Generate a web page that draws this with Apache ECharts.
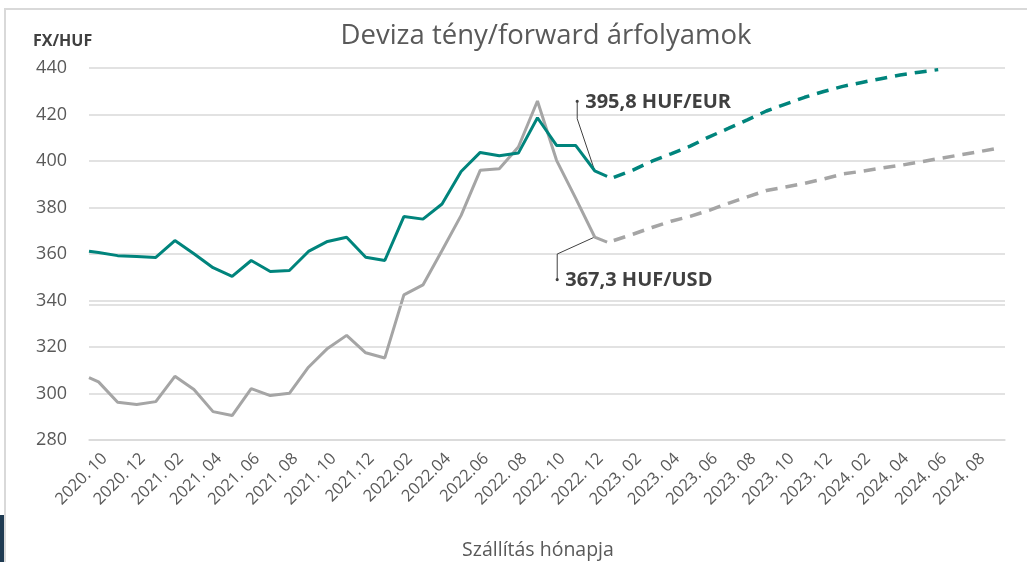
<!DOCTYPE html>
<html>
<head>
<meta charset="utf-8">
<script src="https://cdn.jsdelivr.net/npm/echarts@6/dist/echarts.min.js"></script>
<style>
  html, body { margin: 0; padding: 0; background: #fff; }
  #frame {
    position: absolute; left: 4px; top: 8px; width: 1100px; height: 600px;
    border-top: 2px solid #d9d9d9; border-left: 2px solid #d9d9d9;
  }
  #corner { position: absolute; left: 0; top: 515px; width: 4px; height: 47px; background: #1f3b52; }
  #chart { position: absolute; left: 0; top: 0; width: 1027px; height: 562px; }
</style>
</head>
<body>
<div id="frame"></div>
<div id="corner"></div>
<div id="chart"></div>
<script>
// havi kategóriák (szállítás hónapja)
const months = [
  '2020. 10', '2020. 11', '2020. 12', '2021. 01', '2021. 02', '2021. 03',
  '2021. 04', '2021. 05', '2021. 06', '2021. 07', '2021. 08', '2021. 09',
  '2021. 10', '2021. 11', '2021.12', '2022.01', '2022.02', '2022.03',
  '2022.04', '2022.05', '2022.06', '2022.07', '2022. 08', '2022. 09',
  '2022. 10', '2022. 11', '2022. 12', '2023. 01', '2023. 02', '2023. 03',
  '2023. 04', '2023. 05', '2023. 06', '2023. 07', '2023. 08', '2023. 09',
  '2023. 10', '2023. 11', '2023. 12', '2024. 01', '2024. 02', '2024. 03',
  '2024. 04', '2024. 05', '2024. 06', '2024. 07', '2024. 08', '2024. 09'
]
const yTicks = [280, 300, 320, 340, 360, 380, 400, 420, 440]

// tény árfolyamok, 2020.10 - 2022.12
const eurActual = [360.6, 359.3, 358.9, 358.5, 365.8, 360.1, 354.1, 350.4, 357.2, 352.5,
  352.9, 361.1, 365.4, 367.2, 358.6, 357.2, 376.1, 375.0, 381.5, 395.5,
  403.7, 402.3, 403.4, 418.6, 406.7, 406.7, 395.8]
const usdActual = [305.0, 296.2, 295.3, 296.5, 307.4, 301.7, 292.2, 290.5, 302.1, 299.1,
  300.1, 311.3, 319.4, 325.0, 317.5, 315.3, 342.4, 346.7, 361.5, 376.6,
  396.0, 396.7, 406.0, 425.8, 400.3, 384.0, 367.3]
// időszak eleje és az utolsó spot (hónap-pozíció, érték)
const eurEnds = [[0, 361.2], [27.15, 393.4]]
const usdEnds = [[0, 306.8], [27.15, 365.1]]

// forward árfolyamok 2023.01-től
const eurForward = [393.0, 396.1, 399.9, 403.1, 406.4, 410.4, 414.0, 417.7, 421.5, 424.5,
  427.4, 429.9, 432.1, 433.8, 435.4, 437.0, 438.2, 439.3]
const usdForward = [365.8, 368.5, 371.4, 374.1, 376.2, 378.8, 381.8, 384.6, 387.3, 388.8,
  390.4, 392.3, 394.4, 395.6, 396.9, 398.1, 399.5, 401.0, 402.4, 403.8, 405.3]
const forwardStart = months.indexOf('2023. 01')

const EUR_COLOR = '#00847c'
const USD_COLOR = '#a5a5a5'
const FONT = 'Open Sans'

const actualData = (arr, ends) => [ends[0], ...arr.map((v, i) => [i + 0.5, v]), ends[1]]
const forwardData = (arr) => arr.map((v, i) => [forwardStart + i + 0.5, v])

const myChart = echarts.init(document.getElementById('chart'))

const options = {
  animation: false,
  textStyle: { fontFamily: FONT },
  title: {
    text: 'Deviza tény/forward árfolyamok',
    left: 541,
    textAlign: 'center',
    top: 17,
    textStyle: { fontSize: 27.5, fontWeight: 'normal', color: '#595959', fontFamily: FONT }
  },
  grid: { left: 89, right: 22, top: 68, bottom: 122, containLabel: false, outerBoundsMode: 'none' },
  xAxis: [
    {
      type: 'category',
      data: months,
      boundaryGap: true,
      name: 'Szállítás hónapja',
      nameLocation: 'middle',
      nameGap: 100,
      nameTextStyle: { fontSize: 19.5, color: '#595959', fontFamily: FONT, padding: [0, 18, 0, 0] },
      axisLine: { lineStyle: { color: '#d9d9d9', width: 1.5 } },
      axisTick: { interval: 1, length: 7, lineStyle: { color: '#d9d9d9', width: 1.5 } },
      axisLabel: {
        interval: 1, rotate: 45, fontSize: 16.5, color: '#595959', margin: 10,
        verticalAlign: 'top', fontFamily: FONT
      }
    },
    { type: 'value', min: 0, max: months.length, show: false }
  ],
  yAxis: {
    type: 'value',
    min: yTicks[0],
    max: yTicks[yTicks.length - 1],
    interval: 20,
    axisLine: { show: false },
    axisTick: { show: false },
    axisLabel: { fontSize: 18, color: '#595959', margin: 22, fontFamily: FONT },
    splitLine: { lineStyle: { color: '#d9d9d9', width: 1.5 } }
  },
  series: [
    {
      name: 'EUR tény', type: 'line', xAxisIndex: 1, showSymbol: false,
      data: actualData(eurActual, eurEnds),
      lineStyle: { color: EUR_COLOR, width: 3 }, z: 3,
      markLine: {
        silent: true, symbol: 'none', label: { show: false },
        lineStyle: { color: '#d9d9d9', width: 1.5, type: 'solid' },
        data: [{ yAxis: 338.3 }]
      }
    },
    {
      name: 'USD tény', type: 'line', xAxisIndex: 1, showSymbol: false,
      data: actualData(usdActual, usdEnds),
      lineStyle: { color: USD_COLOR, width: 3 }, z: 2
    },
    {
      name: 'EUR forward', type: 'line', xAxisIndex: 1, showSymbol: false,
      data: forwardData(eurForward),
      lineStyle: { color: EUR_COLOR, width: 3.5, type: [12, 8] }
    },
    {
      name: 'USD forward', type: 'line', xAxisIndex: 1, showSymbol: false,
      data: forwardData(usdForward),
      lineStyle: { color: USD_COLOR, width: 3.5, type: [12, 8] }
    }
  ]
}

myChart.setOption(options)

// feliratok vezetővonallal a 2022.12-es tény értékekhez
const lastIdx = eurActual.length - 1
const leader = (value, dx, dotDy, bendDy, text) => {
  const p = myChart.convertToPixel({ xAxisIndex: 1, yAxisIndex: 0 }, [lastIdx + 0.5, value])
  const dot = [p[0] + dx, p[1] + dotDy]
  return [
    {
      type: 'polyline', silent: true,
      shape: { points: [dot, [dot[0], p[1] + bendDy], [p[0], p[1]]] },
      style: { stroke: '#404040', lineWidth: 1, fill: null }
    },
    { type: 'circle', silent: true, shape: { cx: dot[0], cy: dot[1], r: 1.6 }, style: { fill: '#404040' } },
    {
      type: 'text', silent: true, x: dot[0] + 8, y: dot[1] + 1,
      style: { text: text, fontSize: 20, fontWeight: 'bold', fill: '#404040', fontFamily: FONT, verticalAlign: 'middle' }
    }
  ]
}

myChart.setOption({
  graphic: [
    {
      type: 'text', left: 33, top: 33,
      style: { text: 'FX/HUF', fontSize: 16, fontWeight: 'bold', fill: '#404040', fontFamily: FONT }
    },
    ...leader(eurActual[lastIdx], -17.5, -69.5, -52, '395,8 HUF/EUR'),
    ...leader(usdActual[lastIdx], -37.5, 42.5, 17, '367,3 HUF/USD')
  ]
})
</script>
</body>
</html>
